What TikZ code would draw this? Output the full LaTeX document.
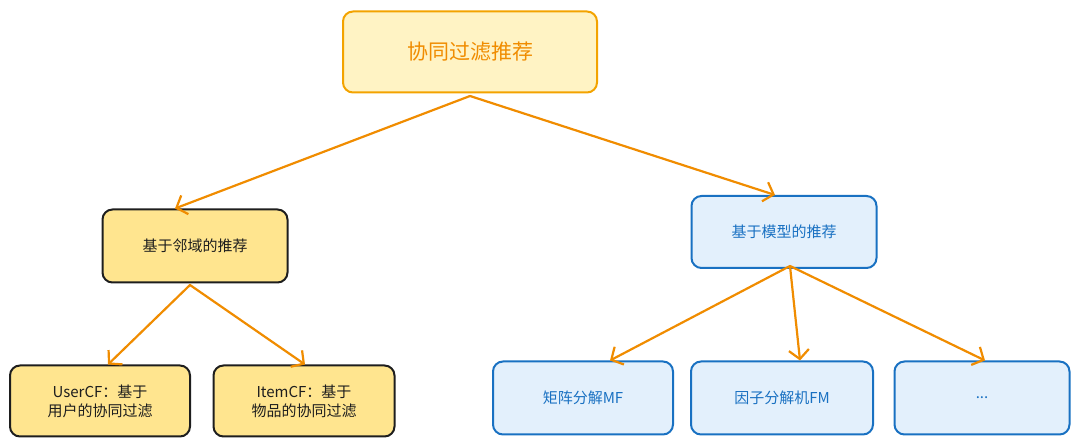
\documentclass[tikz,border=0pt]{standalone}
\usepackage{fontspec}
\newfontfamily\cjk{Noto Sans CJK SC}
\usetikzlibrary{arrows.meta}
\definecolor{LineOrange}{HTML}{F08C00}
\definecolor{TopFill}{HTML}{FFF3C4}
\definecolor{YellowFill}{HTML}{FFE58F}
\definecolor{BlueFill}{HTML}{E3F0FC}
\definecolor{DarkBlue}{HTML}{1971C2}
\definecolor{DarkInk}{HTML}{1E1E1E}
\tikzset{
  box/.style={rectangle, rounded corners=10pt, line width=2pt, align=center,
    font=\cjk\fontsize{15}{19}\selectfont, inner sep=0pt},
  topbox/.style={box, draw=LineOrange!80!yellow, fill=TopFill, text=LineOrange,
    minimum width=254pt, minimum height=81pt, font=\cjk\fontsize{21}{25}\selectfont},
  yellowbox/.style={box, draw=DarkInk, fill=YellowFill, text=DarkInk},
  bluebox/.style={box, draw=DarkBlue, fill=BlueFill, text=DarkBlue},
  link/.style={LineOrange, line width=2.2pt, line cap=round,
    -{Straight Barb[length=9pt,width=20pt,line width=2.2pt]}}
}
\begin{document}
\begin{tikzpicture}[x=1pt, y=-1pt]
  \useasboundingbox (0,0) rectangle (1080,443);

  \node[topbox] (cf) at (470,52) {协同过滤推荐};

  \node[yellowbox, minimum width=185pt, minimum height=73pt] (nb) at (195,246) {基于邻域的推荐};
  \node[bluebox, minimum width=185pt, minimum height=72pt] (mb) at (784,232) {基于模型的推荐};

  \node[yellowbox, minimum width=180pt, minimum height=71pt] (ucf) at (100,401) {UserCF：基于\\用户的协同过滤};
  \node[yellowbox, minimum width=181pt, minimum height=71pt] (icf) at (304,401) {ItemCF：基于\\物品的协同过滤};

  \node[bluebox, minimum width=180pt, minimum height=73pt] (mf) at (583,398) {矩阵分解MF};
  \node[bluebox, minimum width=182pt, minimum height=73pt] (fm) at (782,398) {因子分解机FM};
  \node[bluebox, minimum width=175pt, minimum height=73pt] (etc) at (982,398) {...};

  % connectors
  \coordinate (cfb) at (470,96);
  \coordinate (nbb) at (190,285);
  \coordinate (mbb) at (790,266);
  \draw[link] (cfb) -- (nb.north -| 175,0);
  \draw[link] (cfb) -- (mb.north -| 775,0);
  \draw[link] (nbb) -- (ucf.north -| 108,0);
  \draw[link] (nbb) -- (icf.north -| 305,0);
  \draw[link] (mbb) -- (mf.north -| 610,0);
  \draw[link] (mbb) -- (fm.north -| 800,0);
  \draw[link] (mbb) -- (etc.north -| 985,0);
\end{tikzpicture}
\end{document}
